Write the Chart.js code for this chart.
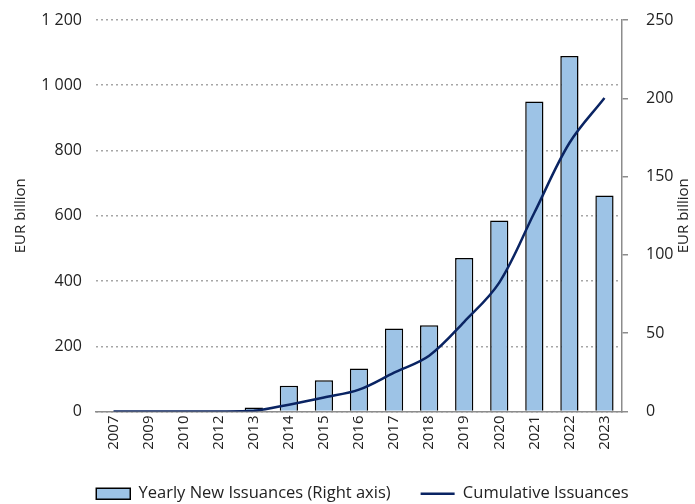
<!DOCTYPE html>
<html>
<head>
<meta charset="utf-8">
<script src="https://cdn.jsdelivr.net/npm/chart.js@4/dist/chart.umd.min.js"></script>
<style>
  html, body { margin: 0; padding: 0; background: #fff; }
  #wrap { width: 695px; height: 504px; }
</style>
</head>
<body>
<div id="wrap"><canvas id="chart" width="695" height="504"></canvas></div>
<script>
// data
const years = ['2007', '2009', '2010', '2012', '2013', '2014', '2015', '2016', '2017', '2018', '2019', '2020', '2021', '2022', '2023'];
const yearlyNew = [0.4, 0, 0, 0, 2.5, 16.5, 20, 27.5, 53, 55, 98, 122, 198, 227, 138];
const cumulative = [0, 0, 0, 0, 2, 21, 43, 67, 119, 171, 275, 395, 609, 823, 961];
const leftTicks = [0, 200, 400, 600, 800, 1000, 1200];
const rightTicks = [0, 50, 100, 150, 200, 250];

const FONT = "'Open Sans', 'DejaVu Sans', sans-serif";
const txt = '#222';

// thousands with a space: 1 200
const fmt = (v) => String(v).replace(/\B(?=(\d{3})+(?!\d))/g, ' ');

// no automatic label overflow padding, the layout is fixed by hand
const noPad = (s) => { s.paddingTop = 0; s.paddingBottom = 0; s.paddingLeft = 0; s.paddingRight = 0; };

// right axis title reads bottom-to-top like the left one
const rightTitle = {
  id: 'rightTitle',
  afterLayout(chart) {
    // legend sits a bit right of centre in the original
    chart.legend.left += 10;
    chart.legend.right += 10;
  },
  afterDraw(chart) {
    const s = chart.scales.yRight;
    const c = chart.ctx;
    c.save();
    c.translate(684, (s.top + s.bottom) / 2);
    c.rotate(-Math.PI / 2);
    c.fillStyle = txt;
    c.font = "15px " + FONT;
    c.textAlign = 'center';
    c.textBaseline = 'middle';
    c.fillText('EUR billion', 0, 0);
    c.restore();
  }
};

const ctx = document.getElementById('chart').getContext('2d');
new Chart(ctx, {
  data: {
    labels: years,
    datasets: [
      {
        type: 'bar',
        label: 'Yearly New Issuances (Right axis)',
        data: yearlyNew,
        yAxisID: 'yRight',
        backgroundColor: '#9dc3e6',
        borderColor: '#000',
        borderWidth: 1.5,
        borderSkipped: 'start',
        barPercentage: 0.52,
        categoryPercentage: 1,
        order: 1,
        pointStyle: 'rect'
      },
      {
        type: 'line',
        label: 'Cumulative Issuances',
        data: cumulative,
        yAxisID: 'yLeft',
        borderColor: '#0a2463',
        backgroundColor: '#0a2463',
        borderWidth: 2.5,
        tension: 0.35,
        pointRadius: 0,
        fill: false,
        order: 0,
        pointStyle: 'line'
      }
    ]
  },
  options: {
    responsive: false,
    animation: false,
    layout: {
      autoPadding: false,
      padding: { top: 20, bottom: -8, left: 12, right: 2 }
    },
    plugins: {
      tooltip: { enabled: false },
      legend: {
        display: true,
        position: 'bottom',
        labels: {
          color: txt,
          usePointStyle: true,
          pointStyleWidth: 34,
          boxHeight: 11,
          padding: 30,
          font: { family: FONT, size: 16.5 },
          sort: (a, b) => a.datasetIndex - b.datasetIndex
        }
      }
    },
    scales: {
      x: {
        offset: true,
        grid: { display: false, drawTicks: false },
        border: { display: true, color: '#8c8c8c', width: 1.5 },
        ticks: {
          color: txt,
          minRotation: 90,
          maxRotation: 90,
          autoSkip: false,
          padding: 4,
          font: { family: FONT, size: 15 }
        },
        afterFit: (s) => { s.height = 44; noPad(s); }
      },
      yLeft: {
        position: 'left',
        min: 0,
        max: 1200,
        afterBuildTicks: (s) => { s.ticks = leftTicks.map(v => ({ value: v })); },
        grid: {
          color: '#a6a6a6',
          lineWidth: 1.5,
          drawTicks: false
        },
        border: { display: false, dash: [2, 3] },
        ticks: {
          color: txt,
          padding: 14,
          font: { family: FONT, size: 16 },
          callback: (v) => fmt(v)
        },
        title: {
          display: true,
          text: 'EUR billion',
          color: txt,
          padding: { top: 0, bottom: 4 },
          font: { family: FONT, size: 15 }
        },
        afterFit: (s) => { s.width = 84; noPad(s); }
      },
      yRight: {
        position: 'right',
        min: 0,
        max: 250,
        afterBuildTicks: (s) => { s.ticks = rightTicks.map(v => ({ value: v })); },
        grid: {
          display: true,
          drawOnChartArea: false,
          drawTicks: true,
          tickLength: 6,
          color: '#8c8c8c',
          lineWidth: 1.5
        },
        border: { display: true, color: '#8c8c8c', width: 1.5 },
        ticks: {
          color: txt,
          padding: 18,
          font: { family: FONT, size: 16 }
        },
        afterFit: (s) => { s.width = 71; noPad(s); }
      }
    }
  },
  plugins: [rightTitle]
});
</script>
</body>
</html>
